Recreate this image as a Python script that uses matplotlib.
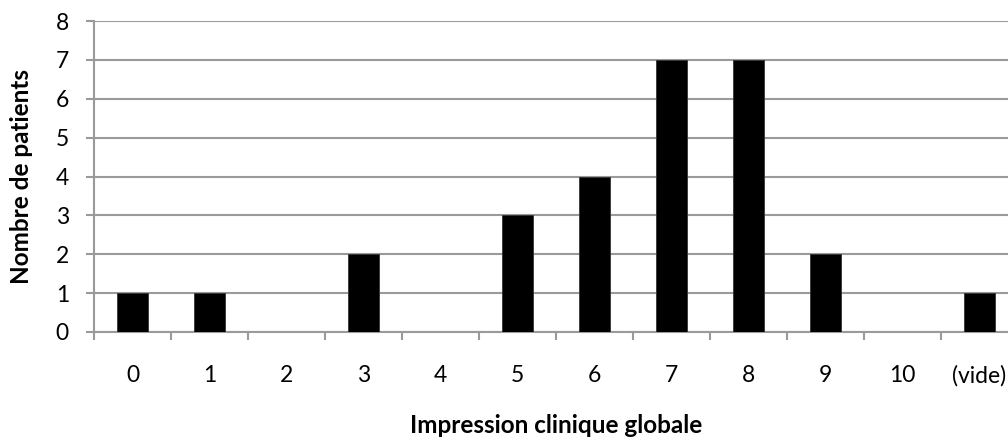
import matplotlib
matplotlib.use("Agg")
import matplotlib.pyplot as plt
import numpy as np

categories = ["0", "1", "2", "3", "4", "5", "6", "7", "8", "9", "10", "(vide)"]
patients = [1, 1, 0, 2, 0, 3, 4, 7, 7, 2, 0, 1]

plt.rcParams["font.family"] = ["Lato", "DejaVu Sans"]
GRID = "#9a9a9a"

fig = plt.figure(figsize=(10.08, 4.41), dpi=100)
# plot area runs past the right edge of the picture, as in the original
ax = fig.add_axes([94 / 1008, 109 / 441, 924 / 1008, 311 / 441])

x = np.arange(len(categories))
ax.bar(x, patients, width=0.39, color="black", edgecolor="#333333", lw=0.6, zorder=3)

ax.set_xlim(-0.5, len(categories) - 0.5)
ax.set_ylim(0, 8)
ax.set_yticks(range(0, 9))
ax.yaxis.grid(True, color=GRID, lw=1.5)
ax.set_axisbelow(True)

ax.set_xticks(x)
ax.set_xticklabels(categories)
ax.set_xticks(np.arange(-0.5, len(categories), 1), minor=True)
ax.tick_params(axis="x", which="major", length=0, pad=24, labelsize=16.5)
ax.tick_params(axis="x", which="minor", length=6, width=1.5, color=GRID)
ax.tick_params(axis="y", length=6, width=1.5, color=GRID, pad=12, labelsize=16.5)

for s in ("top", "right"):
    ax.spines[s].set_visible(False)
for s in ("left", "bottom"):
    ax.spines[s].set_color(GRID)
    ax.spines[s].set_linewidth(1.5)

ax.set_ylabel("Nombre de patients", fontsize=17.5, fontweight="bold")
ax.yaxis.set_label_coords(-0.066, 0.5)
ax.set_xlabel("Impression clinique globale", fontsize=17.5, fontweight="bold")
ax.xaxis.set_label_coords(0.5, (332 - 414) / 311)

fig.savefig("out.png", dpi=100)
